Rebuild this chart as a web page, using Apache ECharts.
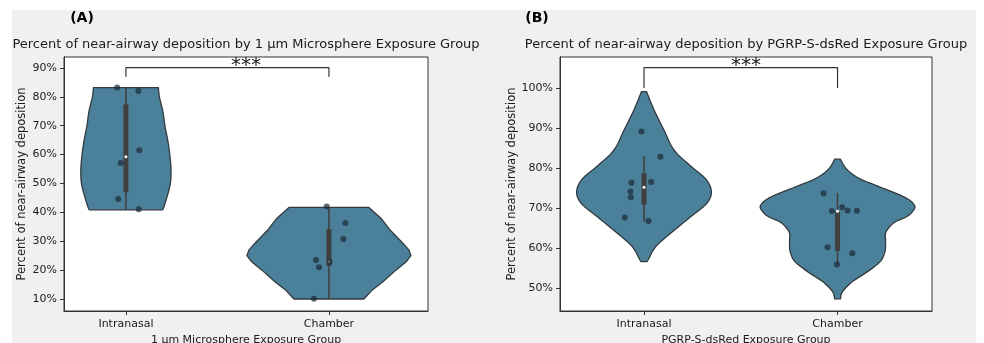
<!DOCTYPE html>
<html>
<head>
<meta charset="utf-8">
<script src="https://cdn.jsdelivr.net/npm/echarts@6/dist/echarts.min.js"></script>
<style>
  html, body { margin: 0; padding: 0; background: #ffffff; overflow: hidden; }
  #bg { position: absolute; left: 12px; top: 10px; width: 964px; height: 333px; background: #f0f0f0; }
  #chart { position: absolute; left: 0; top: 0; width: 984px; height: 343px; }
</style>
</head>
<body>
<div id="bg"></div>
<div id="chart"></div>
<script>
// ---------------- DATA ----------------
const categories = ['Intranasal', 'Chamber'];
const panelLabels = ['(A)', '(B)'];
const titles = [
  'Percent of near-airway deposition by 1 µm Microsphere Exposure Group',
  'Percent of near-airway deposition by PGRP-S-dsRed Exposure Group'
];
const xAxisNames = ['1 µm Microsphere Exposure Group', 'PGRP-S-dsRed Exposure Group'];
const yAxisName = 'Percent of near-airway deposition';
const yTicksA = [10, 20, 30, 40, 50, 60, 70, 80, 90];
const yTicksB = [50, 60, 70, 80, 90, 100];

// violin profiles: [value %, half-width in category units]
const violinA_Intranasal = [[83.2,0.160],[80,0.165],[75,0.182],[70,0.192],[65,0.206],[60,0.216],[55,0.222],[50,0.219],[45,0.201],[41.5,0.185],[40.9,0.180]];
const violinA_Chamber = [[41.7,0.197],[38,0.256],[34,0.300],[30,0.355],[27,0.394],[25,0.404],[23,0.382],[20,0.330],[16,0.266],[13,0.212],[10,0.172]];
const violinB_Intranasal = [[99.1,0.013],[94.5,0.052],[89.5,0.103],[84.5,0.155],[80.5,0.241],[77.2,0.320],[74.1,0.348],[71.2,0.325],[67.8,0.241],[63.7,0.138],[60.3,0.060],[57.0,0.021],[56.6,0.013]];
const violinB_Chamber = [[82.2,0.015],[79.75,0.046],[77.4,0.112],[75,0.232],[72.6,0.351],[70.6,0.398],[69.1,0.387],[67.8,0.356],[66.6,0.300],[65.3,0.269],[63.7,0.248],[61.6,0.248],[59.1,0.245],[56.6,0.220],[54.1,0.155],[51.6,0.077],[49.1,0.026],[47.3,0.015]];

// inner box: [whisker low, q1, median, q3, whisker high]
const boxA = [[40.9, 47.0, 59.3, 77.4, 83.2], [10.0, 21.5, 22.9, 34.2, 41.7]];
const boxB = [[66.6, 70.8, 75.2, 78.7, 83.0], [56.0, 59.25, 69.2, 69.25, 73.8]];

// observations: [jitter offset, value %]
const pointsA_Intranasal = [[-0.043,83.2],[0.061,82.0],[0.066,61.5],[-0.026,57.1],[-0.038,44.6],[0.063,41.1]];
const pointsA_Chamber = [[-0.011,42.0],[0.081,36.3],[0.071,30.8],[-0.064,23.5],[-0.049,21.0],[0.003,22.9],[-0.074,10.1]];
const pointsB_Intranasal = [[-0.013,89.1],[0.085,82.8],[-0.065,76.3],[0.037,76.5],[-0.070,74.1],[-0.068,72.7],[-0.099,67.6],[0.023,66.75]];
const pointsB_Chamber = [[-0.072,73.7],[-0.029,69.25],[0.024,70.2],[0.052,69.4],[0.100,69.3],[-0.052,60.2],[0.076,58.7],[-0.003,55.9]];

// significance brackets: [leg bottom, bar top], label
const bracketA = [87.0, 90.1];
const bracketB = [100.0, 105.1];
const sigLabel = '***';

// axis ranges
const xRangeA = [-0.305, 1.488];
const xRangeB = [-0.434, 1.488];
const yRangeA = [5.85, 93.8];
const yRangeB = [44.25, 107.75];

// ---------------- STYLE ----------------
const FONT = 'DejaVu Sans';
const violinFill = '#4a8099';
const violinEdge = '#333a3e';
const boxColor = '#3f3f3f';
const pointColor = 'rgba(26,42,54,0.88)';
const textColor = '#1a1a1a';

const chart = echarts.init(document.getElementById('chart'), null, {renderer: 'canvas'});

function xAxisCfg(gi, range, name) {
  return {
    gridIndex: gi, type: 'value', min: range[0], max: range[1],
    axisLine: {show: true, onZero: false, lineStyle: {color: '#333', width: 1}},
    splitLine: {show: false},
    axisTick: {show: true, customValues: [0, 1], length: 4, lineStyle: {color: '#333'}},
    axisLabel: {customValues: [0, 1], formatter: v => categories[Math.round(v)], color: textColor, fontFamily: FONT, fontSize: 11, margin: 8},
    name: name, nameLocation: 'middle', nameGap: 22,
    nameTextStyle: {color: textColor, fontFamily: FONT, fontSize: 11}
  };
}
function yAxisCfg(gi, range, ticks) {
  return {
    gridIndex: gi, type: 'value', min: range[0], max: range[1],
    axisLine: {show: true, onZero: false, lineStyle: {color: '#333', width: 1}},
    splitLine: {show: false},
    axisTick: {show: true, customValues: ticks, length: 4, lineStyle: {color: '#333'}},
    axisLabel: {customValues: ticks, formatter: v => v + '%', color: textColor, fontFamily: FONT, fontSize: 11, margin: 7},
    name: yAxisName, nameLocation: 'middle', nameGap: 36,
    nameTextStyle: {color: textColor, fontFamily: FONT, fontSize: 11.5}
  };
}

// Catmull-Rom curve through screen points (rendering only)
function curveThrough(pts, steps) {
  if (pts.length < 3) return pts;
  const out = [];
  for (let k = 0; k < pts.length - 1; k++) {
    const p0 = pts[Math.max(k - 1, 0)], p1 = pts[k], p2 = pts[k + 1], p3 = pts[Math.min(k + 2, pts.length - 1)];
    for (let s = 0; s < steps; s++) {
      const t = s / steps, t2 = t * t, t3 = t2 * t;
      const f = (a, b, c, d) => 0.5 * ((2 * b) + (-a + c) * t + (2 * a - 5 * b + 4 * c - d) * t2 + (-a + 3 * b - 3 * c + d) * t3);
      out.push([f(p0[0], p1[0], p2[0], p3[0]), f(p0[1], p1[1], p2[1], p3[1])]);
    }
  }
  out.push(pts[pts.length - 1]);
  return out;
}

function violinSeries(ai, profiles, boxes, smoothFlags) {
  return {
    type: 'custom', xAxisIndex: ai, yAxisIndex: ai, z: 2,
    data: profiles.map((p, i) => [i, p[0][0]]),
    renderItem: (params, api) => {
      const i = params.dataIndex;
      const prof = profiles[i];
      const b = boxes[i];
      let left = prof.map(([y, w]) => api.coord([i - w, y]));
      let right = prof.slice().reverse().map(([y, w]) => api.coord([i + w, y]));
      if (smoothFlags[i]) { left = curveThrough(left, 8); right = curveThrough(right, 8); }
      const pts = left.concat(right);
      const lo = api.coord([i, b[0]]), q1 = api.coord([i, b[1]]), md = api.coord([i, b[2]]), q3 = api.coord([i, b[3]]), hi = api.coord([i, b[4]]);
      const bw = 5;
      return {
        type: 'group',
        children: [
          {type: 'polygon', shape: {points: pts}, style: {fill: violinFill, stroke: violinEdge, lineWidth: 1.3, lineJoin: 'round'}},
          {type: 'line', shape: {x1: lo[0], y1: lo[1], x2: hi[0], y2: hi[1]}, style: {stroke: boxColor, lineWidth: 1.5}},
          {type: 'rect', shape: {x: q3[0] - bw / 2, y: q3[1], width: bw, height: q1[1] - q3[1]}, style: {fill: boxColor}},
          {type: 'circle', shape: {cx: md[0], cy: md[1], r: 1.5}, style: {fill: '#ffffff'}}
        ]
      };
    }
  };
}

function pointSeries(ai, ptsList) {
  const data = [];
  ptsList.forEach((pts, ci) => pts.forEach(([dx, v]) => data.push([ci + dx, v])));
  return {
    type: 'scatter', xAxisIndex: ai, yAxisIndex: ai, z: 5,
    symbol: 'circle', symbolSize: 6, data: data,
    itemStyle: {color: pointColor}, silent: true
  };
}

function bracketSeries(ai, br) {
  return {
    type: 'line', xAxisIndex: ai, yAxisIndex: ai, z: 4,
    data: [[0, br[0]], [0, br[1]], [1, br[1]], [1, br[0]]],
    symbol: 'none', lineStyle: {color: '#333', width: 1.2}, silent: true, animation: false
  };
}

function starSeries(ai, br, xr) {
  return {
    type: 'custom', xAxisIndex: ai, yAxisIndex: ai, z: 6,
    data: [[(xr[0] + xr[1]) / 2, br[1]]],
    renderItem: (params, api) => {
      const p = api.coord([api.value(0), api.value(1)]);
      return {type: 'text', x: p[0], y: p[1] + 8.5, style: {text: sigLabel, textAlign: 'center', textVerticalAlign: 'bottom', font: '20px "' + FONT + '"', fill: textColor}};
    }
  };
}

const gridBase = {show: true, backgroundColor: '#ffffff', borderColor: '#333', borderWidth: 1, containLabel: false, outerBoundsMode: 'none'};
const option = {
  backgroundColor: 'transparent',
  animation: false,
  grid: [
    Object.assign({left: 64, top: 57, width: 364, height: 254}, gridBase),
    Object.assign({left: 560, top: 57, width: 372, height: 254}, gridBase)
  ],
  xAxis: [xAxisCfg(0, xRangeA, xAxisNames[0]), xAxisCfg(1, xRangeB, xAxisNames[1])],
  yAxis: [yAxisCfg(0, yRangeA, yTicksA), yAxisCfg(1, yRangeB, yTicksB)],
  graphic: [
    {type: 'text', x: 82, y: 18, style: {text: panelLabels[0], textAlign: 'center', textVerticalAlign: 'middle', font: 'bold 14px "' + FONT + '"', fill: '#000'}},
    {type: 'text', x: 537, y: 18, style: {text: panelLabels[1], textAlign: 'center', textVerticalAlign: 'middle', font: 'bold 14px "' + FONT + '"', fill: '#000'}},
    {type: 'text', x: 246, y: 45, style: {text: titles[0], textAlign: 'center', textVerticalAlign: 'middle', font: '13px "' + FONT + '"', fill: textColor}},
    {type: 'text', x: 746, y: 45, style: {text: titles[1], textAlign: 'center', textVerticalAlign: 'middle', font: '13px "' + FONT + '"', fill: textColor}}
  ],
  series: [
    violinSeries(0, [violinA_Intranasal, violinA_Chamber], boxA, [true, false]),
    violinSeries(1, [violinB_Intranasal, violinB_Chamber], boxB, [true, true]),
    pointSeries(0, [pointsA_Intranasal, pointsA_Chamber]),
    pointSeries(1, [pointsB_Intranasal, pointsB_Chamber]),
    bracketSeries(0, bracketA),
    bracketSeries(1, bracketB),
    starSeries(0, bracketA, xRangeA),
    starSeries(1, bracketB, xRangeB)
  ]
};
chart.setOption(option);
</script>
</body>
</html>
